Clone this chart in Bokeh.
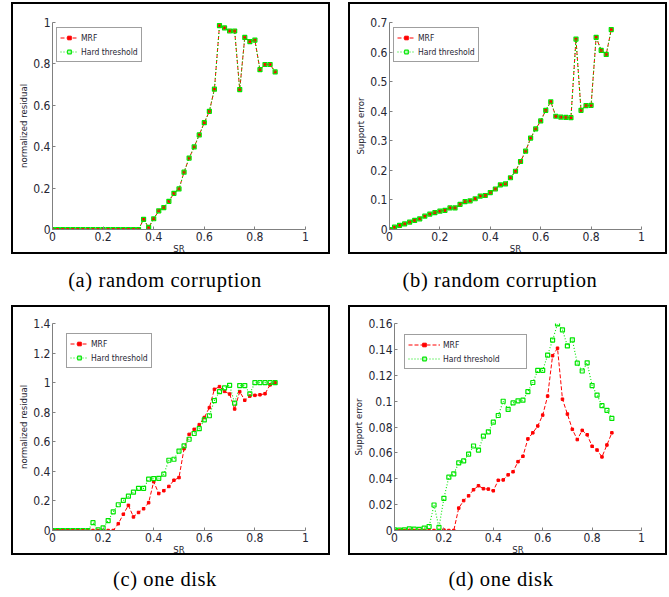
from bokeh.plotting import figure
from bokeh.layouts import column, row
from bokeh.models import Div, Spacer, FixedTicker, Legend, LegendItem
from bokeh.embed import file_html
from bokeh.resources import INLINE

# ---------------- data ----------------
sr = [0.00, 0.02, 0.04, 0.06, 0.08, 0.10, 0.12, 0.14, 0.16, 0.18,
      0.20, 0.22, 0.24, 0.26, 0.28, 0.30, 0.32, 0.34, 0.36, 0.38,
      0.40, 0.42, 0.44, 0.46, 0.48, 0.50, 0.52, 0.54, 0.56, 0.58,
      0.60, 0.62, 0.64, 0.66, 0.68, 0.70, 0.72, 0.74, 0.76, 0.78,
      0.80, 0.82, 0.84, 0.86, 0.88]

# (a) random corruption - normalized residual
mrf_a = [0, 0, 0, 0, 0, 0, 0, 0, 0, 0,
         0, 0, 0, 0, 0, 0, 0, 0, 0.049, 0.010,
         0.052, 0.090, 0.106, 0.136, 0.175, 0.196, 0.277, 0.345, 0.399, 0.457,
         0.516, 0.571, 0.678, 0.985, 0.974, 0.959, 0.959, 0.676, 0.928, 0.908,
         0.915, 0.772, 0.797, 0.797, 0.761]
ht_a = [0, 0, 0, 0, 0, 0, 0, 0, 0, 0,
        0, 0, 0, 0, 0, 0, 0, 0, 0.049, 0.010,
        0.052, 0.090, 0.106, 0.136, 0.175, 0.196, 0.277, 0.345, 0.399, 0.457,
        0.516, 0.571, 0.678, 0.985, 0.974, 0.959, 0.959, 0.676, 0.928, 0.908,
        0.915, 0.772, 0.797, 0.797, 0.761]

# (b) random corruption - support error
mrf_b = [0, 0.008, 0.014, 0.019, 0.025, 0.031, 0.036, 0.045, 0.052, 0.057,
         0.062, 0.065, 0.073, 0.073, 0.085, 0.094, 0.097, 0.104, 0.113, 0.115,
         0.125, 0.137, 0.151, 0.154, 0.175, 0.197, 0.230, 0.265, 0.309, 0.340,
         0.367, 0.403, 0.432, 0.383, 0.380, 0.379, 0.378, 0.644, 0.403, 0.419,
         0.420, 0.650, 0.606, 0.592, 0.676]
ht_b = [0, 0.008, 0.014, 0.019, 0.025, 0.031, 0.036, 0.045, 0.052, 0.057,
        0.062, 0.065, 0.073, 0.073, 0.085, 0.094, 0.097, 0.104, 0.113, 0.115,
        0.125, 0.137, 0.151, 0.154, 0.175, 0.197, 0.230, 0.265, 0.309, 0.340,
        0.367, 0.403, 0.432, 0.383, 0.380, 0.379, 0.378, 0.644, 0.403, 0.419,
        0.420, 0.650, 0.606, 0.592, 0.676]

# (c) one disk - normalized residual
mrf_c = [0, 0, 0, 0, 0, 0, 0, 0, 0, 0,
         0, 0, 0, 0.046, 0.110, 0.170, 0.092, 0.122, 0.147, 0.188,
         0.330, 0.250, 0.269, 0.298, 0.340, 0.358, 0.553, 0.650, 0.684, 0.716,
         0.764, 0.831, 0.955, 0.973, 0.941, 0.923, 0.822, 0.939, 0.881, 0.909,
         0.914, 0.918, 0.925, 0.985, 1.0]
ht_c = [0, 0, 0, 0, 0, 0, 0, 0, 0.053, 0.005,
        0.018, 0.067, 0.126, 0.174, 0.204, 0.232, 0.259, 0.285, 0.285, 0.347,
        0.351, 0.353, 0.381, 0.475, 0.482, 0.537, 0.572, 0.617, 0.656, 0.689,
        0.748, 0.776, 0.879, 0.939, 0.964, 0.982, 0.861, 0.980, 0.980, 0.925,
        1.0, 1.0, 1.0, 1.0, 1.0]

# (d) one disk - support error
mrf_d = [0, 0, 0, 0, 0, 0, 0, 0, 0, 0,
         0.0003, 0, 0, 0.0173, 0.0231, 0.0268, 0.0315, 0.0346, 0.0323, 0.0320,
         0.0307, 0.0388, 0.0391, 0.0430, 0.0454, 0.0532, 0.0574, 0.0708, 0.0755, 0.0808,
         0.0892, 0.1039, 0.1351, 0.1409, 0.1015, 0.0900, 0.0782, 0.0703, 0.0774, 0.0740,
         0.0651, 0.0622, 0.0569, 0.0661, 0.0755]
ht_d = [0.0005, 0.0003, 0.0005, 0.0013, 0.0010, 0.0008, 0.0018, 0.0031, 0.0197, 0.0024,
        0.0249, 0.0412, 0.0438, 0.0522, 0.0538, 0.0590, 0.0653, 0.0622, 0.0729, 0.0763,
        0.0837, 0.0889, 0.0999, 0.0936, 0.0986, 0.1002, 0.1007, 0.1073, 0.1144, 0.1238,
        0.1238, 0.1356, 0.1472, 0.1597, 0.1550, 0.1427, 0.1474, 0.1293, 0.1233, 0.1296,
        0.1120, 0.1047, 0.0965, 0.0929, 0.0866]

series_names = ["MRF", "Hard threshold"]
x_label = "SR"
y_labels = ["normalized residual", "Support error", "normalized residual", "Support error"]
captions = ["(a) random corruption", "(b) random corruption", "(c) one disk", "(d) one disk"]

x_ticks = [0, 0.2, 0.4, 0.6, 0.8, 1]
x_tick_labels = ["0", "0.2", "0.4", "0.6", "0.8", "1"]
yt_a = [0, 0.2, 0.4, 0.6, 0.8, 1]
yl_a = ["0", "0.2", "0.4", "0.6", "0.8", "1"]
yt_b = [0, 0.1, 0.2, 0.3, 0.4, 0.5, 0.6, 0.7]
yl_b = ["0", "0.1", "0.2", "0.3", "0.4", "0.5", "0.6", "0.7"]
yt_c = [0, 0.2, 0.4, 0.6, 0.8, 1, 1.2, 1.4]
yl_c = ["0", "0.2", "0.4", "0.6", "0.8", "1", "1.2", "1.4"]
yt_d = [0, 0.02, 0.04, 0.06, 0.08, 0.1, 0.12, 0.14, 0.16]
yl_d = ["0", "0.02", "0.04", "0.06", "0.08", "0.1", "0.12", "0.14", "0.16"]

# ---------------- styling ----------------
NARROW = "'DejaVu Sans Condensed', 'Liberation Sans Narrow', 'Arial Narrow', sans-serif"
RED = "#ff0000"
GREEN = "#00e600"
AXIS = "#808080"
TXT = "#262633"
W = 319  # outer width incl. 2px border (border-box)


def panel(mrf, ht, ymax, yt, yl, ylabel, h, left, right, top, bottom, leg_xy, glyph_w, label_w):
    p = figure(width=W, height=h, x_range=(0, 1), y_range=(0, ymax),
               output_backend="svg", toolbar_location=None,
               min_border_left=left, min_border_right=right,
               min_border_top=top, min_border_bottom=bottom,
               styles={"border": "2px solid #000000"})
    p.grid.visible = False
    p.outline_line_color = None
    p.background_fill_color = "white"
    p.border_fill_color = "white"

    for ax in (p.xaxis[0], p.yaxis[0]):
        ax.axis_line_color = AXIS
        ax.major_tick_line_color = AXIS
        ax.major_tick_in = 3
        ax.major_tick_out = 0
        ax.minor_tick_line_color = None
        ax.major_label_text_font = NARROW
        ax.major_label_text_font_size = "12px"
        ax.major_label_text_color = TXT
        ax.axis_label_text_font = NARROW
        ax.axis_label_text_font_size = "9.5px"
        ax.axis_label_text_font_style = "normal"
        ax.axis_label_text_color = TXT

    p.xaxis.ticker = FixedTicker(ticks=x_ticks)
    p.xaxis.major_label_overrides = dict(zip(x_ticks, x_tick_labels))
    p.xaxis.axis_label = x_label
    p.xaxis.major_label_standoff = 2
    p.xaxis.axis_label_standoff = -1

    p.yaxis.ticker = FixedTicker(ticks=yt)
    p.yaxis.major_label_overrides = dict(zip(yt, yl))
    p.yaxis.axis_label = ylabel
    p.yaxis.major_label_standoff = 2
    p.yaxis.axis_label_standoff = 1

    l1 = p.line(sr, mrf, line_color=RED, line_width=1, line_dash="4 2")
    s1 = p.scatter(sr, mrf, marker="square", size=2.5, fill_color=RED, line_color=RED)
    l2 = p.line(sr, ht, line_color=GREEN, line_width=1.1, line_dash="1 2")
    s2 = p.scatter(sr, ht, marker="square", size=4, fill_color=None, line_color=GREEN, line_width=1.2)

    leg = Legend(items=[LegendItem(label=series_names[0], renderers=[l1, s1]),
                        LegendItem(label=series_names[1], renderers=[l2, s2])],
                 location=leg_xy, orientation="vertical")
    leg.border_line_color = "#404040"
    leg.border_line_width = 1
    leg.background_fill_color = "white"
    leg.background_fill_alpha = 1
    leg.label_text_font = NARROW
    leg.label_text_font_size = "8.5px"
    leg.label_text_color = TXT
    leg.padding = 3
    leg.spacing = 1
    leg.margin = 0
    leg.glyph_width = glyph_w
    leg.glyph_height = 9
    leg.label_height = 13
    leg.label_width = label_w
    leg.label_standoff = 3
    p.add_layout(leg, "center")
    return p


fa = panel(mrf_a, ht_a, 1, yt_a, yl_a, y_labels[0], 252, 39, 27, 18, 26, (4, 167), 18, 20)
fb = panel(mrf_b, ht_b, 0.7, yt_b, yl_b, y_labels[1], 252, 39, 28, 18, 26, (4, 167), 18, 20)
fc = panel(mrf_c, ht_c, 1.4, yt_c, yl_c, y_labels[2], 250, 39, 27, 16, 26, (14, 162), 18, 20)
fd = panel(mrf_d, ht_d, 0.16, yt_d, yl_d, y_labels[3], 250, 39, 28, 16, 26, (10, 161), 32, 80)


def caption(text, width, ml, pad_top, h):
    html = ('<div style="width:300px;margin-left:%dpx;padding-top:%dpx;text-align:center;'
            'font-family:\'Liberation Serif\',\'Times New Roman\',serif;font-size:20.5px;'
            'letter-spacing:0.6px;line-height:22px;color:#000;white-space:nowrap">%s</div>'
            % (ml, pad_top, text))
    return Div(text=html, width=width, height=h, margin=0)


cap_a = caption(captions[0], 330, 15, 15, 51)
cap_b = caption(captions[1], 335, 20, 15, 51)
cap_c = caption(captions[2], 330, 15, 13, 40)
cap_d = caption(captions[3], 335, 21, 13, 40)

layout = column(
    Spacer(width=10, height=2),
    row(Spacer(width=11, height=10), fa, Spacer(width=18, height=10), fb),
    row(cap_a, cap_b),
    row(Spacer(width=11, height=10), fc, Spacer(width=18, height=10), fd),
    row(cap_c, cap_d),
)

open("out.html", "w").write(file_html(layout, INLINE))
